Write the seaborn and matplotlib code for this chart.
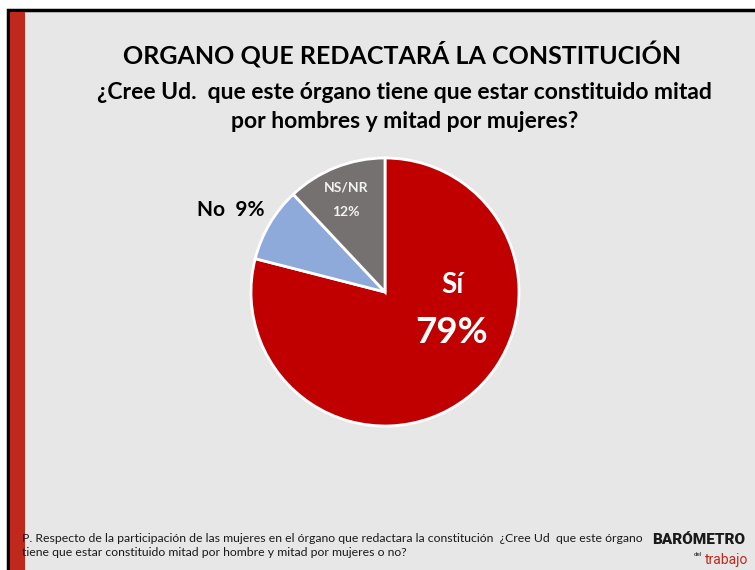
import matplotlib.pyplot as plt
import matplotlib.patches as mpatches
import seaborn as sns

categorias = ['Sí', 'No', 'NS/NR']
porcentajes = [79, 9, 12]
colores = ['#c00000', '#8eaadb', '#767171']

sns.set_theme(style='white')
plt.rcParams['font.family'] = ['Lato', 'DejaVu Sans']

fig = plt.figure(figsize=(7.55, 5.7), dpi=100)
fig.patch.set_facecolor('white')

# fondo del panel, barra roja y marco
bg = fig.add_axes([0, 0, 1, 1], zorder=-5)
bg.set_xlim(0, 755)
bg.set_ylim(570, 0)
bg.axis('off')
bg.add_patch(mpatches.Rectangle((8, 10), 760, 570, facecolor='#e7e7e7', edgecolor='black', linewidth=2.5))
bg.add_patch(mpatches.Rectangle((10, 12), 15, 570, facecolor='#c0281c', edgecolor='none'))

fig.text(0.533, 1 - 55 / 570, 'ORGANO QUE REDACTARÁ LA CONSTITUCIÓN', ha='center', va='center',
         fontsize=18, fontweight='bold', color='black')
fig.text(0.536, 1 - 92 / 570, '¿Cree Ud.  que este órgano tiene que estar constituido mitad',
         ha='center', va='center', fontsize=16.5, fontweight='bold', color='black')
fig.text(0.536, 1 - 122 / 570, 'por hombres y mitad por mujeres?',
         ha='center', va='center', fontsize=16.5, fontweight='bold', color='black')

r = 134 / 570
ax = fig.add_axes([385 / 755 - r * 570 / 755, 1 - 292 / 570 - r, 2 * r * 570 / 755, 2 * r])
ax.set_facecolor('none')
wedges, _ = ax.pie(porcentajes, colors=colores, startangle=90, counterclock=False,
                   wedgeprops=dict(edgecolor='white', linewidth=2))
ax.set_aspect('equal')
ax.set_xlim(-1, 1)
ax.set_ylim(-1, 1)
ax.axis('off')

ax.text(0.50, 0.05, categorias[0], ha='center', va='center', fontsize=20, fontweight='bold', color='white')
ax.text(0.50, -0.30, f'{porcentajes[0]}%', ha='center', va='center', fontsize=26.5, fontweight='bold', color='white')
ax.text(-0.90, 0.61, f'{categorias[1]}  {porcentajes[1]}%', ha='right', va='center', fontsize=15,
        fontweight='bold', color='black')
ax.text(-0.29, 0.78, categorias[2], ha='center', va='center', fontsize=10, fontweight='bold', color='#f2f2f2')
ax.text(-0.29, 0.60, f'{porcentajes[2]}%', ha='center', va='center', fontsize=10, fontweight='bold', color='#f2f2f2')

fig.text(22 / 755, 1 - 538 / 570,
         'P. Respecto de la participación de las mujeres en el órgano que redactara la constitución  ¿Cree Ud  que este órgano',
         ha='left', va='center', fontsize=8.8, color='#1a1a1a')
fig.text(22 / 755, 1 - 553 / 570,
         'tiene que estar constituido mitad por hombre y mitad por mujeres o no?',
         ha='left', va='center', fontsize=8.8, color='#1a1a1a')

# logo
fig.text(745 / 755, 1 - 540 / 570, 'BARÓMETRO', ha='right', va='center', fontsize=11,
         fontweight='heavy', color='#1a1a1a', family=['Roboto', 'DejaVu Sans'])
fig.text(702 / 755, 1 - 554 / 570, 'del', ha='right', va='center', fontsize=4.5,
         color='#1a1a1a', family=['Roboto', 'DejaVu Sans'])
fig.text(748 / 755, 1 - 560 / 570, 'trabajo', ha='right', va='center', fontsize=10,
         color='#c0281c', family=['Roboto', 'DejaVu Sans'])

fig.savefig('out.png', dpi=100)
